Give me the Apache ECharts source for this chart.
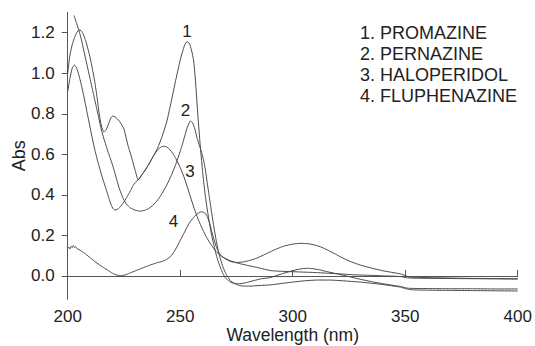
<!DOCTYPE html>
<html>
<head>
<meta charset="utf-8">
<script src="https://cdn.jsdelivr.net/npm/echarts@6/dist/echarts.min.js"></script>
<style>
html,body{margin:0;padding:0;background:#fff;}
#c{width:535px;height:346px;}
</style>
</head>
<body>
<div id="c"></div>
<script>
// ---- data ----
const names = ['1. PROMAZINE', '2. PERNAZINE', '3. HALOPERIDOL', '4. FLUPHENAZINE'];
const curveTags = ['1', '2', '3', '4'];
const tagX = [253.0, 252.3, 254.4, 247.0];
const tagY = [1.205, 0.818, 0.514, 0.268];

const wl1 = [200,201,202,203,204,205,206,207,208,209,210,211,212,213,214,215,216,217,218,219,220,221,222,223,224,225,226,227,228,229,230,231.4,233,234.5,236,238,240,242,244,246,248,250,251,252,253,254,255,256,257,258,259,260,261,262,263,264,265,266,267,268,269,270,272,274,276,278,280,283,286,290,295,300,303,306.5,309,312,315,320,325,330,335,340,345,348,350,352,360,370,380,390,400];
const abs1 = [1.0,1.09,1.14,1.175,1.2,1.213,1.21,1.19,1.16,1.12,1.075,1.02,0.96,0.885,0.8,0.74,0.711,0.72,0.745,0.775,0.789,0.785,0.775,0.763,0.745,0.725,0.68,0.635,0.6,0.56,0.52,0.473,0.5,0.523,0.55,0.59,0.632,0.69,0.76,0.86,0.965,1.065,1.105,1.14,1.155,1.148,1.115,1.06,0.93,0.77,0.63,0.51,0.41,0.33,0.26,0.2,0.15,0.105,0.068,0.038,0.012,-0.008,-0.028,-0.036,-0.038,-0.036,-0.031,-0.022,-0.014,-0.008,0.01,0.026,0.034,0.038,0.036,0.03,0.022,0.01,-0.003,-0.016,-0.028,-0.038,-0.047,-0.052,-0.058,-0.061,-0.062,-0.063,-0.063,-0.064,-0.064];

const wl2 = [202.8,204,205,206,207,208,209,210,211,212,213,214,215,216,217,218,219,220,221,222,223,224,225,226,227,228,230,232,234,236,238,240,242,244,246,248,250,251,252,253,254,254.5,255.5,256.5,257.5,258.5,259.5,260.5,261.2,262,263,264,265,266,267,268,269,270,271,272.5,275,278,281,285,290,295,300,305,311,316,320,325,330,335,340,345,348,350,353,360,370,380,390,400];
const abs2 = [1.285,1.245,1.21,1.17,1.12,1.07,1.02,0.97,0.92,0.87,0.82,0.77,0.72,0.68,0.645,0.61,0.578,0.545,0.506,0.467,0.43,0.4,0.375,0.356,0.344,0.335,0.325,0.32,0.323,0.333,0.35,0.375,0.408,0.448,0.495,0.55,0.615,0.65,0.69,0.728,0.755,0.765,0.755,0.725,0.68,0.645,0.61,0.565,0.523,0.46,0.385,0.31,0.24,0.175,0.12,0.08,0.045,0.018,-0.003,-0.025,-0.042,-0.05,-0.05,-0.047,-0.044,-0.037,-0.03,-0.024,-0.02,-0.02,-0.022,-0.026,-0.03,-0.036,-0.042,-0.05,-0.055,-0.062,-0.068,-0.07,-0.071,-0.072,-0.073,-0.074];

const wl3 = [200,201,202,203,204,205,206,207,208,209,210,211,212,213,214,215,216,217,218,219,220,221,222,223,224,225,226,227,228,229,230,231.4,233,234.5,236,238,240,241.5,242.6,244,245,246,247,248,250,252,254,256,258,260,262,264,266,268,270,273,276,280,285,290,295,300,305,310,315,320,327,335,342,348,351,355,365,375,390,400];
const abs3 = [0.91,0.975,1.025,1.04,1.025,0.99,0.945,0.895,0.84,0.785,0.73,0.675,0.625,0.58,0.54,0.5,0.465,0.43,0.395,0.36,0.335,0.325,0.328,0.337,0.35,0.365,0.383,0.403,0.423,0.445,0.46,0.476,0.5,0.523,0.55,0.59,0.622,0.636,0.64,0.636,0.628,0.615,0.6,0.58,0.535,0.478,0.41,0.34,0.28,0.228,0.185,0.15,0.12,0.1,0.087,0.072,0.062,0.052,0.04,0.027,0.023,0.021,0.019,0.017,0.014,0.011,0.006,0.003,0.0,-0.003,-0.009,-0.011,-0.012,-0.013,-0.014,-0.015];

const wl4 = [200,200.5,201,201.5,202,202.5,203,203.5,204,205,206,208,210,212,214,216,218,220,222,224,226,228,230,232,234,236,238,240,242,244,246,248,250,252,254,256,258,259.5,261,262,263,264,265,266,267,268,270,272,275,278,281,284,287,290,293,296,300,303.5,307,310,313,316,319,322,326,330,335,340,345,348,350,352,360,370,380,390,400];
const abs4 = [0.135,0.142,0.133,0.146,0.14,0.15,0.141,0.144,0.136,0.13,0.124,0.108,0.09,0.072,0.056,0.041,0.027,0.013,0.004,0.002,0.007,0.016,0.025,0.034,0.043,0.051,0.059,0.066,0.072,0.082,0.1,0.133,0.175,0.218,0.26,0.29,0.31,0.317,0.31,0.293,0.265,0.22,0.18,0.145,0.12,0.103,0.085,0.073,0.067,0.069,0.077,0.088,0.103,0.119,0.134,0.147,0.157,0.161,0.159,0.152,0.141,0.125,0.108,0.09,0.07,0.054,0.039,0.026,0.016,0.01,0.002,-0.005,-0.008,-0.01,-0.012,-0.013,-0.014];

const xTicks = [200, 250, 300, 350, 400];
const yTicks = [0, 0.2, 0.4, 0.6, 0.8, 1.0, 1.2];

// ---- chart ----
const FONT = "'Liberation Sans', Arial, sans-serif";
const LINE = '#4a4a4a';
const TXT = '#222';
const zip = (a, b) => a.map((v, i) => [v, b[i]]);
const sets = [zip(wl1, abs1), zip(wl2, abs2), zip(wl3, abs3), zip(wl4, abs4)];

const chart = echarts.init(document.getElementById('c'), null, {renderer: 'svg'});
const series = sets.map((d, i) => ({
  name: names[i],
  type: 'line',
  data: d,
  showSymbol: false,
  symbol: 'none',
  smooth: 0.2,
  lineStyle: {color: LINE, width: 1},
  itemStyle: {color: LINE},
  animation: false,
  markPoint: {
    symbol: 'circle',
    symbolSize: 0,
    animation: false,
    label: {show: true, position: 'inside', formatter: '{b}', color: TXT, fontSize: 17, fontFamily: FONT},
    data: [{name: curveTags[i], coord: [tagX[i], tagY[i]]}]
  }
}));

chart.setOption({
  animation: false,
  backgroundColor: '#fff',
  grid: {left: 67.7, top: 12.4, width: 450, bottom: 46.7, containLabel: false, outerBoundsMode: 'none'},
  xAxis: {
    type: 'value', min: 200, max: 400, interval: 50,
    name: 'Wavelength (nm)', nameLocation: 'middle', nameGap: 27, nameMoveOverlap: false,
    nameTextStyle: {color: TXT, fontSize: 17.5, lineHeight: 17, fontFamily: FONT},
    axisLine: {show: true, lineStyle: {color: '#555', width: 1}},
    axisTick: {show: true, inside: true, length: 6, lineStyle: {color: '#555'}},
    axisLabel: {color: TXT, fontSize: 17, lineHeight: 14, fontFamily: FONT, margin: 10},
    splitLine: {show: false}
  },
  yAxis: {
    type: 'value', min: -0.115, max: 1.3,
    name: 'Abs', nameLocation: 'middle', nameGap: 40, nameRotate: 90, nameMoveOverlap: false,
    nameTextStyle: {color: TXT, fontSize: 18, fontFamily: FONT},
    axisLine: {show: true, lineStyle: {color: '#555', width: 1}},
    axisTick: {show: true, inside: false, length: 6, customValues: yTicks, lineStyle: {color: '#555'}},
    axisLabel: {color: TXT, fontSize: 17, fontFamily: FONT, margin: 13, customValues: yTicks,
      formatter: v => v.toFixed(1)},
    splitLine: {show: false}
  },
  legend: {
    show: true, orient: 'vertical', left: 350, top: 19, itemGap: 3,
    icon: 'none', itemWidth: 0, itemHeight: 18,
    selectedMode: false,
    textStyle: {color: TXT, fontSize: 18, fontFamily: FONT, padding: 0},
    data: names
  },
  series: series
});
</script>
</body>
</html>
